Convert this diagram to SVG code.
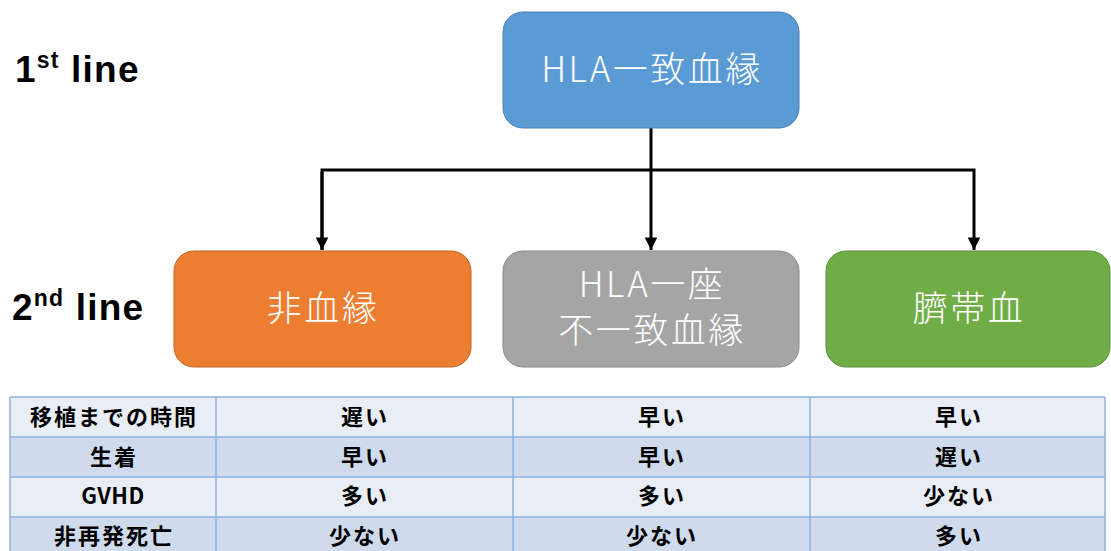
<svg xmlns="http://www.w3.org/2000/svg" width="1111" height="551" viewBox="0 0 1111 551">
<style>
.lbl{font-family:"Liberation Sans","Noto Sans",sans-serif;font-weight:bold;font-size:37px;letter-spacing:1.2px;fill:#000}
.sup{font-size:23px}
.bx{font-family:"Noto Sans CJK JP","Noto Sans",sans-serif;font-weight:300;font-size:35px;letter-spacing:2.5px;fill:#fff;text-anchor:middle}
.tt{font-family:"Noto Sans CJK JP","Liberation Sans",sans-serif;font-weight:bold;font-size:22px;letter-spacing:2px;fill:#000;text-anchor:middle}
.conn{stroke:#000;stroke-width:3;fill:none}
.r1{fill:#E9EDF6}
.r2{fill:#CFDBEC}
.grid{stroke:#8DB4E2;stroke-width:1.5;fill:none}
</style>
<defs>
<marker id="arr" viewBox="0 0 10 10" refX="10" refY="5" markerWidth="4.2" markerHeight="4.2" orient="auto" markerUnits="strokeWidth">
<path d="M0,0 L10,5 L0,10 Z" fill="#000"/>
</marker>
</defs>
<rect width="1111" height="551" fill="#fff"/>

<g id="label-1st">
<text class="lbl" x="15" y="82">1<tspan class="sup" dy="-14">st</tspan><tspan dy="14"> line</tspan></text>
</g>
<g id="label-2nd">
<text class="lbl" x="12" y="320">2<tspan class="sup" dy="-14">nd</tspan><tspan dy="14"> line</tspan></text>
</g>

<g id="connectors">
<line class="conn" x1="651" y1="128" x2="651" y2="250" marker-end="url(#arr)"/>
<polyline class="conn" points="322,250 322,170 974,170 974,250" marker-end="url(#arr)"/>
<line class="conn" x1="322" y1="172" x2="322" y2="250" marker-end="url(#arr)"/>
</g>

<g id="node-hla-match">
<rect x="503" y="12" width="296" height="116" rx="20" fill="#5B9BD5" stroke="#4A80B5" stroke-width="1"/>
<text class="bx" x="652" y="82">HLA一致血縁</text>
</g>
<g id="node-unrelated">
<rect x="174" y="251" width="297" height="116" rx="20" fill="#ED7D31" stroke="#C0652A" stroke-width="1"/>
<text class="bx" x="323" y="321">非血縁</text>
</g>
<g id="node-hla-mismatch">
<rect x="503" y="251" width="296" height="116" rx="20" fill="#A5A5A5" stroke="#8A8A8A" stroke-width="1"/>
<text class="bx" x="652" y="297">HLA一座</text>
<text class="bx" x="652" y="343">不一致血縁</text>
</g>
<g id="node-cord-blood">
<rect x="826" y="251" width="284" height="116" rx="20" fill="#70AD47" stroke="#5B8E3A" stroke-width="1"/>
<text class="bx" x="969" y="321">臍帯血</text>
</g>

<g id="table">
<rect class="r1" x="10" y="397" width="1095" height="40"/>
<rect class="r2" x="10" y="437" width="1095" height="40"/>
<rect class="r1" x="10" y="477" width="1095" height="40"/>
<rect class="r2" x="10" y="517" width="1095" height="40"/>
<path class="grid" d="M10,397 H1105 M10,437 H1105 M10,477 H1105 M10,517 H1105 M10,397 V551 M216,397 V551 M513,397 V551 M810,397 V551 M1105,397 V551"/>
<text class="tt" x="114" y="425">移植までの時間</text>
<text class="tt" x="365" y="425">遅い</text>
<text class="tt" x="662" y="425">早い</text>
<text class="tt" x="959" y="425">早い</text>
<text class="tt" x="114" y="465">生着</text>
<text class="tt" x="365" y="465">早い</text>
<text class="tt" x="662" y="465">早い</text>
<text class="tt" x="959" y="465">遅い</text>
<text class="tt" x="113" y="504" style="letter-spacing:0.5px">GVHD</text>
<text class="tt" x="365" y="504">多い</text>
<text class="tt" x="662" y="504">多い</text>
<text class="tt" x="959" y="504">少ない</text>
<text class="tt" x="114" y="544">非再発死亡</text>
<text class="tt" x="365" y="544">少ない</text>
<text class="tt" x="662" y="544">少ない</text>
<text class="tt" x="959" y="544">多い</text>
</g>
</svg>
